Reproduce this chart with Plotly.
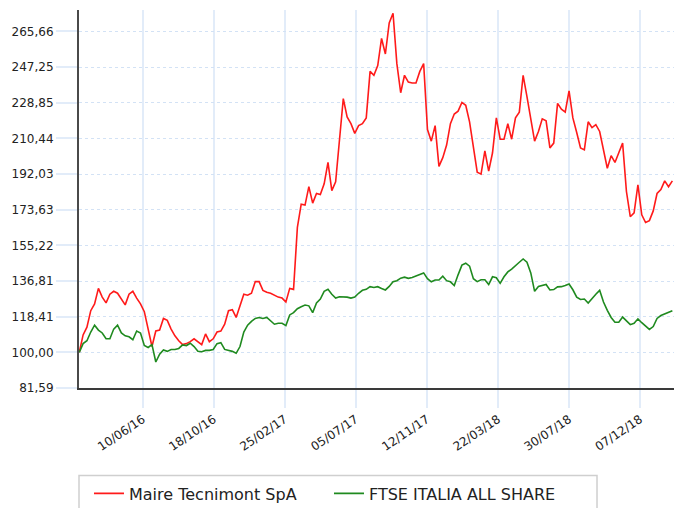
import pandas as pd
import plotly.graph_objects as go

# Weekly observations (Mondays) from 15/02/2016 to 04/02/2019, base 100
dates = pd.date_range("2016-02-15", periods=156, freq="7D")

maire = [
    100, 109, 113, 121.5, 125, 133, 128.5, 125.5, 130, 131.5,
    130.5, 127.5, 124.5, 130, 131.5, 128, 125, 121, 112, 103,
    111, 111.5, 117.5, 116.5, 112, 108.5, 106, 104, 104.5, 105.5,
    107, 105.5, 104, 109.5, 105.5, 107, 110.5, 111, 114.5, 121.5,
    122, 118, 124, 130, 129.5, 130.5, 136.5, 136.5, 132, 131,
    130.5, 129.5, 128.5, 128, 126, 133, 132.5, 164.5, 176.5, 176,
    185.5, 177, 182, 181.5, 187, 198, 183.5, 188, 210, 231,
    221.5, 218, 213, 217, 218, 221, 245, 243, 248, 262,
    254, 270, 275, 249, 234, 243, 239.5, 239, 239, 245,
    249, 215, 209, 217, 196, 200.5, 207, 218, 223, 224.5,
    229, 227.5, 219, 206, 193, 192, 204, 193.5, 203, 221,
    210, 210, 218, 210, 221, 224, 243, 232, 221, 209,
    214, 220.5, 219.5, 205.5, 208, 228.5, 225.5, 224, 235, 221,
    213.5, 205.5, 204.5, 219, 216, 217.5, 214, 205, 195, 201.5,
    198, 203, 208, 183, 170, 172, 186.5, 171, 167, 168,
    173, 182, 184, 188.5, 185.5, 188.5,
]

ftse = [
    100, 104.5, 106, 110.5, 114, 111.5, 110, 107, 107, 112,
    114, 110, 108.5, 108, 106.5, 111, 110, 103.5, 102.5, 104,
    95, 99, 101.2, 100.5, 101.5, 101.5, 102, 103.8, 103.5, 104.7,
    103, 100.5, 100.3, 101, 101, 101.5, 104.5, 105, 101.5, 101,
    100.5, 99.5, 103, 110.5, 114, 116, 117.5, 118, 117.5, 118,
    116, 114.5, 115, 115, 113.8, 119.3, 120.5, 122.5, 123.5, 124.4,
    124, 120.5, 125.5, 127.5, 131.5, 132.5, 130, 128, 128.7, 128.7,
    128.5, 128, 128.5, 130.5, 132, 132.5, 133.9, 133.5, 133.9, 133,
    132.2, 134, 136.4, 137, 138.3, 138.8, 138.2, 138.6, 139.3, 140,
    141, 138, 136.4, 137.3, 137.3, 139.3, 137, 136.4, 134.5, 140,
    145, 146, 144.5, 138, 136.5, 137.5, 137.5, 135, 139, 138.5,
    135.6, 139, 141.5, 143, 145, 146.5, 148.2, 146.5, 141, 131.5,
    134, 134.5, 135, 132.2, 132.4, 133.8, 133.9, 134.5, 135.3, 132.3,
    128.5, 127.3, 127.5, 125.4, 128, 130, 132, 126, 121.7, 118,
    115.5, 115.5, 118.2, 116.2, 114.3, 115, 117.3, 115.3, 113.3, 111.8,
    113.3, 117.5, 119, 119.7, 120.5, 121.5,
]

series_names = ["Maire Tecnimont SpA", "FTSE ITALIA ALL SHARE"]

x_tick_dates = ["2016-06-10", "2016-10-18", "2017-02-25", "2017-07-05",
                "2017-11-12", "2018-03-22", "2018-07-30", "2018-12-07"]
x_tick_text = ["10/06/16", "18/10/16", "25/02/17", "05/07/17",
               "12/11/17", "22/03/18", "30/07/18", "07/12/18"]

y_tick_vals = [81.59, 100.00, 118.41, 136.81, 155.22, 173.63,
               192.03, 210.44, 228.85, 247.25, 265.66]
y_tick_text = ["81,59", "100,00", "118,41", "136,81", "155,22", "173,63",
               "192,03", "210,44", "228,85", "247,25", "265,66"]

FONT = "DejaVu Sans, Verdana, sans-serif"
GRID = "#e2ecf9"
HGRID = "#d3e2f5"

fig = go.Figure()
fig.add_trace(go.Scatter(x=dates, y=maire, mode="lines", name=series_names[0],
                         line=dict(color="#ff1a1a", width=1.6)))
fig.add_trace(go.Scatter(x=dates, y=ftse, mode="lines", name=series_names[1],
                         line=dict(color="#1f8a1f", width=1.6)))

# legend frame (box partially below the visible page)
fig.add_shape(type="rect", xref="paper", yref="paper",
              x0=0, x1=0.8706, y0=-0.2315, y1=-0.36,
              line=dict(color="#cfcfcf", width=1.5), fillcolor="rgba(0,0,0,0)",
              layer="below")

fig.update_layout(
    width=674, height=508,
    margin=dict(l=79, r=0, t=10, b=120, autoexpand=False),
    paper_bgcolor="white", plot_bgcolor="white",
    font=dict(family=FONT, size=12, color="#222222"),
    showlegend=True,
    legend=dict(orientation="h", x=0.0168, xanchor="left", y=-0.234, yanchor="top",
                font=dict(family=FONT, size=16, color="#222222"),
                entrywidth=195, borderwidth=0, bgcolor="rgba(0,0,0,0)",
                itemclick=False),
    xaxis=dict(
        type="date",
        range=["2016-02-14 12:00", "2019-02-07"],
        tickmode="array", tickvals=x_tick_dates, ticktext=x_tick_text,
        tickangle=-34, ticks="outside", ticklen=18, tickcolor=GRID, tickwidth=1.5,
        showgrid=True, gridcolor=GRID, gridwidth=1.5,
        showline=True, linecolor="#3a3a3a", linewidth=1.5,
        zeroline=False,
        tickfont=dict(family=FONT, size=12, color="#222222"),
    ),
    yaxis=dict(
        range=[81.59, 276.7],
        tickmode="array", tickvals=y_tick_vals, ticktext=y_tick_text,
        ticks="outside", ticklen=21, tickcolor=GRID, tickwidth=1.5,
        showgrid=True, gridcolor=HGRID, gridwidth=1.2, griddash="dot",
        showline=True, linecolor="#4a4a4a", linewidth=2,
        zeroline=False,
        tickfont=dict(family=FONT, size=12, color="#222222"),
    ),
)

fig.write_html(
    "out.html",
    config={"displayModeBar": False},
    post_script="document.body.style.margin='0';document.body.style.overflow='hidden';",
)
